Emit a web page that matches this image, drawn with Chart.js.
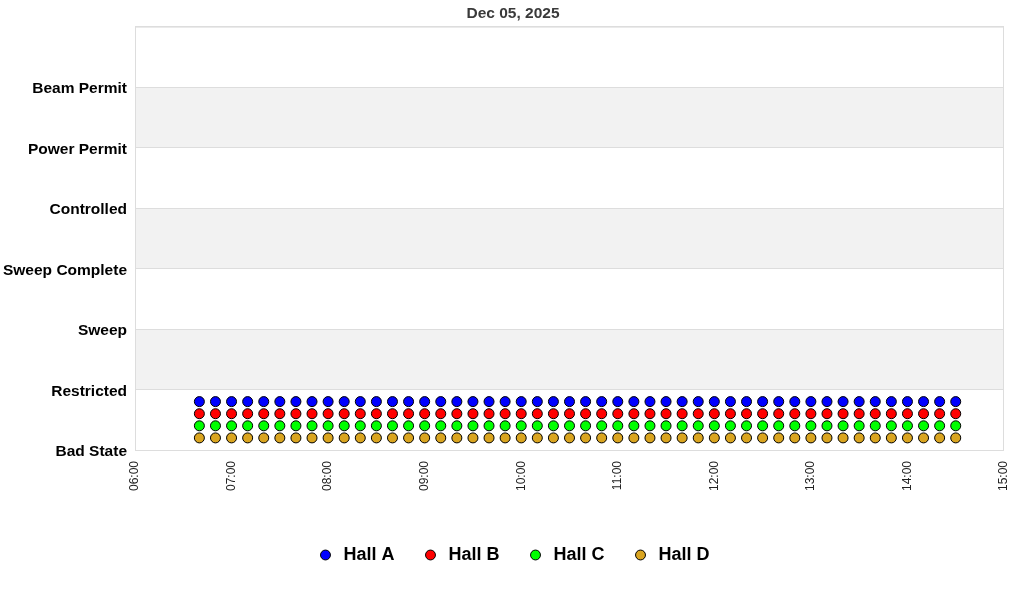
<!DOCTYPE html>
<html>
<head>
<meta charset="utf-8">
<script src="https://cdn.jsdelivr.net/npm/chart.js@4/dist/chart.umd.min.js"></script>
<style>
  html, body { margin: 0; padding: 0; background: #fff; }
  #wrap { width: 1024px; height: 600px; }
</style>
</head>
<body>
<div id="wrap"><canvas id="stateChart" width="1024" height="600"></canvas></div>
<script>
// states shown on the y axis, bottom to top
const stateLabels = ['Bad State', 'Restricted', 'Sweep', 'Sweep Complete', 'Controlled', 'Power Permit', 'Beam Permit'];

// x tick labels (hours)
const hourTicks = ['06:00', '07:00', '08:00', '09:00', '10:00', '11:00', '12:00', '13:00', '14:00', '15:00'];

// sample times
const times = [
    '06:40', '06:50', '07:00', '07:10', '07:20', '07:30', '07:40', '07:50',
    '08:00', '08:10', '08:20', '08:30', '08:40', '08:50', '09:00', '09:10',
    '09:20', '09:30', '09:40', '09:50', '10:00', '10:10', '10:20', '10:30',
    '10:40', '10:50', '11:00', '11:10', '11:20', '11:30', '11:40', '11:50',
    '12:00', '12:10', '12:20', '12:30', '12:40', '12:50', '13:00', '13:10',
    '13:20', '13:30', '13:40', '13:50', '14:00', '14:10', '14:20', '14:30'
];

// plotted state per hall (Bad State, stacked slightly so halls don't overlap)
const hallA = [0.8, 0.8, 0.8, 0.8, 0.8, 0.8, 0.8, 0.8, 0.8, 0.8, 0.8, 0.8, 0.8, 0.8, 0.8, 0.8,
               0.8, 0.8, 0.8, 0.8, 0.8, 0.8, 0.8, 0.8, 0.8, 0.8, 0.8, 0.8, 0.8, 0.8, 0.8, 0.8,
               0.8, 0.8, 0.8, 0.8, 0.8, 0.8, 0.8, 0.8, 0.8, 0.8, 0.8, 0.8, 0.8, 0.8, 0.8, 0.8];
const hallB = [0.6, 0.6, 0.6, 0.6, 0.6, 0.6, 0.6, 0.6, 0.6, 0.6, 0.6, 0.6, 0.6, 0.6, 0.6, 0.6,
               0.6, 0.6, 0.6, 0.6, 0.6, 0.6, 0.6, 0.6, 0.6, 0.6, 0.6, 0.6, 0.6, 0.6, 0.6, 0.6,
               0.6, 0.6, 0.6, 0.6, 0.6, 0.6, 0.6, 0.6, 0.6, 0.6, 0.6, 0.6, 0.6, 0.6, 0.6, 0.6];
const hallC = [0.4, 0.4, 0.4, 0.4, 0.4, 0.4, 0.4, 0.4, 0.4, 0.4, 0.4, 0.4, 0.4, 0.4, 0.4, 0.4,
               0.4, 0.4, 0.4, 0.4, 0.4, 0.4, 0.4, 0.4, 0.4, 0.4, 0.4, 0.4, 0.4, 0.4, 0.4, 0.4,
               0.4, 0.4, 0.4, 0.4, 0.4, 0.4, 0.4, 0.4, 0.4, 0.4, 0.4, 0.4, 0.4, 0.4, 0.4, 0.4];
const hallD = [0.2, 0.2, 0.2, 0.2, 0.2, 0.2, 0.2, 0.2, 0.2, 0.2, 0.2, 0.2, 0.2, 0.2, 0.2, 0.2,
               0.2, 0.2, 0.2, 0.2, 0.2, 0.2, 0.2, 0.2, 0.2, 0.2, 0.2, 0.2, 0.2, 0.2, 0.2, 0.2,
               0.2, 0.2, 0.2, 0.2, 0.2, 0.2, 0.2, 0.2, 0.2, 0.2, 0.2, 0.2, 0.2, 0.2, 0.2, 0.2];

const hallNames = ['Hall A', 'Hall B', 'Hall C', 'Hall D'];
const hallColors = ['#0000ff', '#ff0000', '#00ff00', '#daa520'];

// "HH:MM" -> minutes since midnight
function toMin(t) {
    const p = t.split(':');
    return parseInt(p[0], 10) * 60 + parseInt(p[1], 10);
}

function toPoints(vals) {
    return vals.map((v, i) => ({ x: toMin(times[i]), y: v }));
}

// grey bands behind every other state + light frame
const bandPlugin = {
    id: 'bands',
    afterLayout(chart) {
        // title and legend sit centred on the whole canvas, not the padded box
        [chart.titleBlock, chart.legend].forEach(b => {
            if (!b) return;
            b.left += 11;
            b.right += 11;
        });
    },
    beforeDraw(chart) {
        const { ctx, chartArea, scales: { y } } = chart;
        ctx.save();
        ctx.fillStyle = '#f2f2f2';
        for (let i = 1; i < stateLabels.length; i += 2) {
            const top = y.getPixelForValue(i + 1);
            const bottom = y.getPixelForValue(i);
            ctx.fillRect(chartArea.left, top, chartArea.right - chartArea.left, bottom - top);
        }
        ctx.restore();
    },
    afterDatasetsDraw(chart) {
        const { ctx, chartArea } = chart;
        ctx.save();
        ctx.strokeStyle = '#dddddd';
        ctx.lineWidth = 1;
        ctx.strokeRect(chartArea.left + 0.5, chartArea.top + 0.5,
            chartArea.right - chartArea.left - 1, chartArea.bottom - chartArea.top);
        ctx.restore();
    }
};

const datasets = [hallA, hallB, hallC, hallD].map((vals, i) => ({
    label: hallNames[i],
    data: toPoints(vals),
    showLine: false,
    pointStyle: 'circle',
    pointRadius: 5,
    pointHoverRadius: 5,
    backgroundColor: hallColors[i],
    borderColor: '#000',
    pointBorderColor: '#000',
    pointBorderWidth: 1
}));

new Chart(document.getElementById('stateChart'), {
    type: 'scatter',
    data: { datasets },
    plugins: [bandPlugin],
    options: {
        responsive: false,
        animation: false,
        layout: { padding: { left: 0, right: 20, top: 0, bottom: 26 } },
        plugins: {
            title: {
                display: true,
                text: 'Dec 05, 2025',
                color: '#3a3a3a',
                font: { family: 'Arial, "Liberation Sans", sans-serif', size: 15.5, weight: 'bold' },
                padding: { top: 4, bottom: 4 }
            },
            legend: {
                position: 'bottom',
                labels: {
                    usePointStyle: true,
                    boxHeight: 7,
                    padding: 27,
                    color: '#000',
                    font: { family: 'Arial, "Liberation Sans", sans-serif', size: 18, weight: 'bold' }
                }
            },
            tooltip: { enabled: false }
        },
        scales: {
            x: {
                type: 'linear',
                min: toMin(hourTicks[0]),
                max: toMin(hourTicks[hourTicks.length - 1]),
                afterBuildTicks(scale) {
                    scale.ticks = hourTicks.map(t => ({ value: toMin(t) }));
                },
                afterFit(scale) { scale.height = 69; },
                grid: { display: false },
                border: { display: false },
                ticks: {
                    autoSkip: false,
                    minRotation: 90,
                    maxRotation: 90,
                    padding: 3,
                    color: '#222',
                    font: { family: 'Arial, "Liberation Sans", sans-serif', size: 12 },
                    callback: (v) => {
                        const h = Math.floor(v / 60), m = v % 60;
                        return String(h).padStart(2, '0') + ':' + String(m).padStart(2, '0');
                    }
                }
            },
            y: {
                min: 0,
                max: stateLabels.length,
                afterFit(scale) { scale.width = 135; },
                grid: { color: '#dddddd', drawTicks: false },
                border: { color: '#dddddd' },
                ticks: {
                    stepSize: 1,
                    padding: 8,
                    labelOffset: 2,
                    color: '#000',
                    font: { family: 'Arial, "Liberation Sans", sans-serif', size: 15.5, weight: 'bold' },
                    callback: (v) => stateLabels[v] || ''
                }
            }
        }
    }
});
</script>
</body>
</html>
